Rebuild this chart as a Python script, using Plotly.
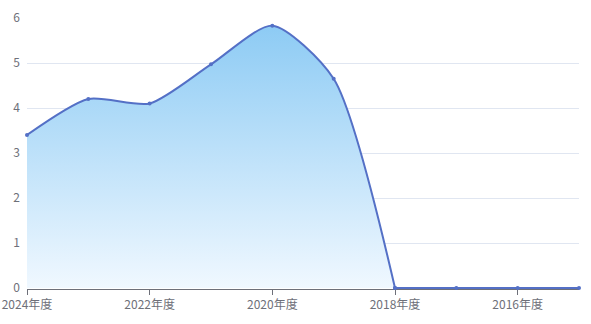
import plotly.graph_objects as go

categories = ["2024年度", "2023年度", "2022年度", "2021年度", "2020年度",
              "2019年度", "2018年度", "2017年度", "2016年度", "2015年度"]
values = [3.4, 4.2, 4.1, 4.97, 5.83, 4.65, 0, 0, 0, 0]
tick_labels = categories[::2]

# the series ends in a run of zeros; draw the curved part and the flat tail
# separately so the spline does not dip below zero
split = 6
fig = go.Figure()
fig.add_trace(go.Scatter(
    x=categories[:split + 1], y=values[:split + 1], mode="lines+markers",
    line=dict(color="#5470C6", width=2, shape="spline", smoothing=0.7),
    marker=dict(color="#5470C6", size=4),
    fill="tozeroy",
    fillgradient=dict(type="vertical",
                      colorscale=[[0, "rgba(240,248,255,1)"], [1, "rgba(141,203,244,1)"]]),
    cliponaxis=False,
))
fig.add_trace(go.Scatter(
    x=categories[split:], y=values[split:], mode="lines+markers",
    line=dict(color="#5470C6", width=2),
    marker=dict(color="#5470C6", size=4),
    cliponaxis=False,
))
fig.update_layout(
    width=591, height=324,
    margin=dict(l=27, r=12, t=18, b=35),
    paper_bgcolor="white", plot_bgcolor="white",
    showlegend=False,
    font=dict(family="Noto Sans CJK SC", size=12, color="#6E7079"),
    xaxis=dict(type="category", categoryorder="array", categoryarray=categories,
               range=[0, 9], tickvals=tick_labels, ticktext=tick_labels,
               automargin=False, layer="below traces",
               showgrid=False, showline=True, linecolor="#6E7079", linewidth=1,
               ticks="outside", ticklen=5, tickcolor="#6E7079", zeroline=False,
               tickfont=dict(size=12, color="#6E7079")),
    yaxis=dict(range=[-1 / 45, 6], tickvals=[0, 1, 2, 3, 4, 5, 6], showgrid=True, gridcolor="#E0E6F1",
               automargin=False, layer="below traces",
               zeroline=False, showline=False, ticks="", ticklabelstandoff=6,
               tickfont=dict(size=12, color="#6E7079")),
)
fig.write_html("out.html")
